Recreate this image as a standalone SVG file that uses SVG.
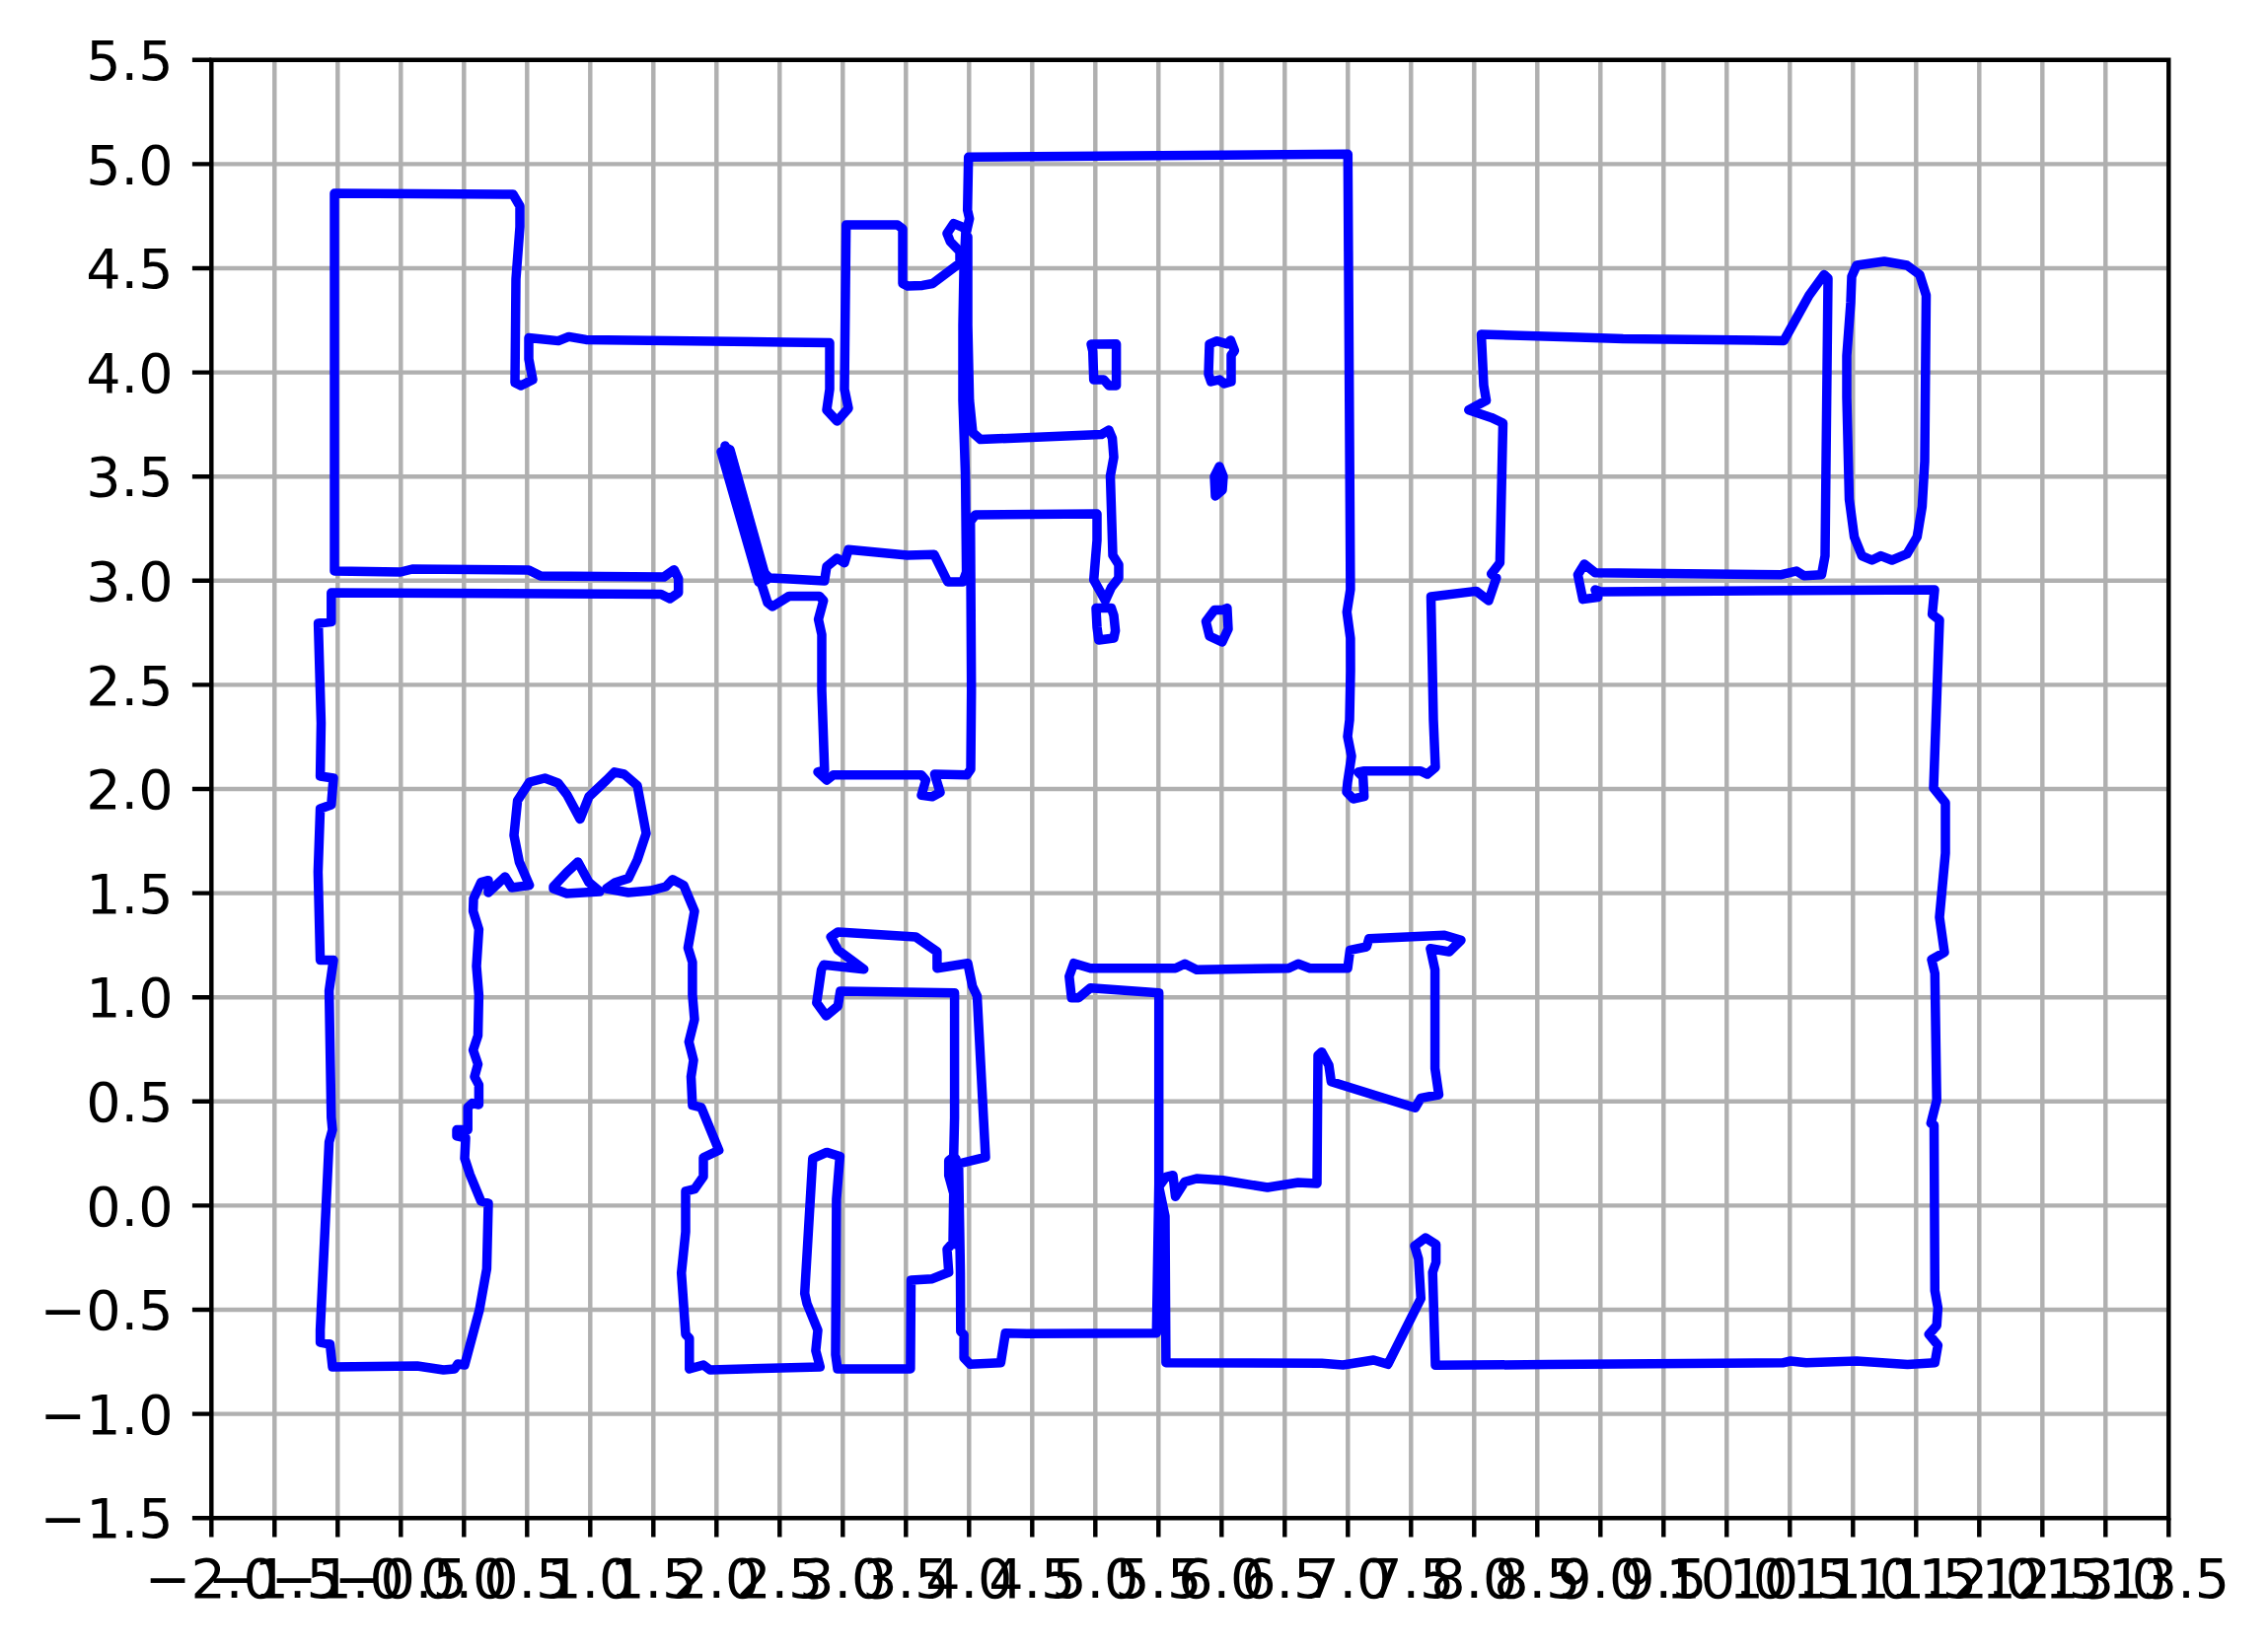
<svg xmlns="http://www.w3.org/2000/svg" width="2299" height="1672" viewBox="0 0 2299 1672">
<style>
.grid{fill:none;stroke:#b0b0b0;stroke-width:4.44}
.tick{fill:none;stroke:#000;stroke-width:4.44}
.spine{fill:none;stroke:#000;stroke-width:4.44;stroke-linecap:square}
.wall{fill:none;stroke:#0000ff;stroke-width:9.5;stroke-linejoin:round;stroke-linecap:round}
text{font-family:"DejaVu Sans",sans-serif;font-size:55.56px;fill:#000}
.xl{text-anchor:middle}
.yl{text-anchor:end}
</style>
<rect width="2299" height="1672" fill="#fff"/>
<g id="grid">
<path class="grid" d="M278.3,60.8V1539.2M342.3,60.8V1539.2M406.3,60.8V1539.2M470.3,60.8V1539.2M534.3,60.8V1539.2M598.3,60.8V1539.2M662.3,60.8V1539.2M726.3,60.8V1539.2M790.3,60.8V1539.2M854.3,60.8V1539.2M918.3,60.8V1539.2M982.3,60.8V1539.2M1046.3,60.8V1539.2M1110.3,60.8V1539.2M1174.3,60.8V1539.2M1238.3,60.8V1539.2M1302.3,60.8V1539.2M1366.3,60.8V1539.2M1430.3,60.8V1539.2M1494.3,60.8V1539.2M1558.3,60.8V1539.2M1622.3,60.8V1539.2M1686.3,60.8V1539.2M1750.3,60.8V1539.2M1814.3,60.8V1539.2M1878.3,60.8V1539.2M1942.3,60.8V1539.2M2006.3,60.8V1539.2M2070.3,60.8V1539.2M2134.3,60.8V1539.2"/>
<path class="grid" d="M214.3,166.4H2198.3M214.3,272H2198.3M214.3,377.6H2198.3M214.3,483.2H2198.3M214.3,588.8H2198.3M214.3,694.4H2198.3M214.3,800H2198.3M214.3,905.6H2198.3M214.3,1011.2H2198.3M214.3,1116.8H2198.3M214.3,1222.4H2198.3M214.3,1328H2198.3M214.3,1433.6H2198.3"/>
</g>
<g id="walls">
<path class="wall" d="M339,579L339,196 520,197 527,209 527,230 523,283 522,388 528,391 540,385 536,364 536,342.5 566,345.6 576.5,341.4 594,344.4 796,347 841,347.6 841,394.7 838,415.7 848.5,427 860,414 856,394.7 857.7,228 909.7,228 915,232 915,287.5 920,290 935,289.4 945.4,287.5 973,266.7 973,255 963.3,245 960,236.7 966.7,226.7 975,230 980,233.3 982.7,221.7 980.7,213 981.7,159.3 1366.3,156.3 1368.9,597.5 1365.3,620.5 1368.9,647.3 1369,680 1368,730 1366,746.7 1370,766.7 1366,793 1365,803 1371.7,810 1382.7,807.7 1381.7,788 1376.7,783 1383,781.7 1440,781.7 1446.7,785 1455,778 1453,730 1450.5,605 1496.4,599.4 1509,609 1516.8,586 1511.7,582 1520.4,570.7 1523.5,429 1511.7,423.4 1488.8,415.7 1506.6,406 1504,390.9 1501.5,339 1600,341.9 1645.2,343.5 1808.3,345.4 1833.8,299.5 1849,278.5 1853,282.3 1850,563.6 1846.5,582.7 1828.7,583.8 1821,579 1805.7,582.7 1617,580.8 1606,572 1599.4,582.7 1604.5,607.6 1619.7,605.6 1617,598 1622.3,600 1961,598 1958.6,623 1966,628.6 1960,799 1972,814 1972,865 1966,930 1971,965.7 1958,973 1961.3,987 1963.2,1115.7 1957.3,1139 1960.5,1140.7 1961.3,1308.6 1964.4,1326 1963.2,1344 1955.3,1353 1964.4,1364 1961.3,1381.8 1933.6,1383.6 1882,1380 1830.8,1381.8 1815,1380 1807,1381.8 1569.8,1383.6 1455,1384.3 1452.2,1290 1455.6,1280 1455.6,1261.7 1445,1255 1434,1263.3 1437.9,1276.7 1440.3,1316.7 1406.8,1383.3 1392.4,1379 1361.3,1384 1339.8,1382.3 1181.9,1381.7 1181,1233.3 1174.7,1203.3 1181.9,1193.3 1189,1191.7 1191.5,1213.3 1201,1198.3 1213,1195 1239.3,1196.7 1284.8,1204 1315.9,1199 1335,1200 1336,1070 1339.8,1066.7 1347,1080 1349.4,1096.7 1434.5,1123.3 1440.3,1113.3 1458.5,1110 1454.6,1083.3 1454.6,983.3 1449.9,961.7 1469,965 1481,953.3 1464.2,948.3 1387.7,951.7 1385.3,960 1368.5,963.3 1366.1,981.7 1327.8,981.7 1315.9,977.3 1306.3,981.7 1213,983.3 1201,977.3 1191.5,981.7 1105.4,981.7 1088.6,976.7 1083.8,990 1086.2,1011.7 1093.4,1011.7 1105.4,1001.7 1174.7,1006.7 1174.7,1200 1172.3,1351.7 1040.8,1352.3 1019.2,1351.7 1014.4,1381.7 983.3,1383.3 977.1,1376.7 977.1,1353.3 973.8,1350 973.5,1290 971.7,1180 999,1173.3 990.5,1010 985.7,1000 981,976.7 949.9,981.7 949.9,965 928.3,950 849.4,945 842.2,950 849.4,963.3 875.7,982.7 835,978.3 832.6,983.3 827.8,1016.7 837.4,1030 849.4,1020 851.8,1005 967.6,1006.7 967.6,1133.3 966.7,1173 961.7,1176.7 961.7,1191.7 966.7,1210 966,1260 960,1266.7 961.7,1290 945,1296.7 923.5,1298 922.9,1388 849,1388 847,1373.6 847.9,1216 851.4,1172.5 838,1168.4 823.8,1174.6 815.7,1311.4 818,1321.8 829,1348.7 826.9,1369.5 831.3,1386 719.7,1389 713,1384 698.8,1388 698.8,1357 695,1352.9 690.7,1290.7 695,1249 695,1207.8 704,1205.7 713,1193 713,1173.8 728.7,1166.3 710.8,1122.8 701.9,1120.7 700.5,1091.7 703,1075 698.3,1056.4 704,1033.6 701.9,1008.8 701.9,975.6 697.4,961 704,923.8 693,897.6 681.8,891.8 675,899 659.5,903 637,905 614.8,901 623.8,894.7 637,890.6 646,872 655,845 646,796.5 632.7,785 622.9,782.8 614.8,791 597,807.7 588,830.5 574.6,805.6 565.7,794 552.3,789 536.7,793 524.6,811.8 521,847 526.4,874 536.7,897.6 518.8,900 512,889 495,905 495,892.7 487.6,894.7 480,911.3 479.6,923.8 485.4,942.4 483,979.7 485.4,1008.8 484.5,1050 479.6,1064.7 484.5,1079 481,1091.7 485.4,1100 485.4,1120 478.7,1118.6 474.2,1122.8 474.2,1145.6 463,1145.6 463,1151.8 472,1153.9 471,1174.6 476.4,1191 487.6,1218 495,1220 493.4,1286.5 486,1328 471,1384 464,1383 460.8,1388 449.6,1389 422.9,1385 337,1386 334.5,1363 324.6,1361 324.6,1348.7 333.6,1158 337,1145.6 335.8,1133 333.6,1004.6 338,973.5 324.6,973.5 322.4,884 324.6,820 335.8,816 338,789 324.6,787 325.5,733 322.6,632 335.8,630.5 335.8,601 670,602.6 679,607 687.7,601 687.7,586.5 683.3,577.7 673,585 548,584 536,578 418,577 406,580 339,579Z"/>
<path class="wall" d="M981,240L981,329.6 982.7,406 986,438.7 993.9,445.6 1116.3,440.6 1124,436 1127.5,444.4 1129,463.6 1125.5,482.7 1128,563 1134,572.6 1134,586 1126.5,595.6 1120.4,609 1108.7,588 1112,547.8 1112,521 988.8,522 983.7,528.6 984.7,700 984,780 980,785.7 947.4,785 953,803.5 945,807.7 934,806.4 938.5,791 934,785.7 844.7,785.7 838,791 829,782.8 835.8,780.7 833,700 833,643.4 829.6,628 834.7,609 830.6,604.4 800,604.4 783,615 778,611 770,586 734,456 738,455 740,458 774,580 780,586 800,587 835.7,589 838,574.5 848.5,566 856,570.7 860,557.3 919.9,563 947,562.3 960.7,590 976,590 979.6,580 978.6,482.7 976,406 976,329.6 977,275 979,233"/>
<path class="wall" d="M731,458L769,590M740,456L777,588M735,452L773,585"/>
<path class="wall" d="M969,1175L966.6,1200 969,1261.7M1176,1240L1174,1345"/>
<path class="wall" d="M561,901L574.6,906 608,904 597,894.7 585.8,874 574.6,884.4 561,899Z"/>
<path class="wall" d="M1882,269L1910,265 1933,269 1945.9,278.5 1952.5,299.5 1951,468 1948.4,513.8 1943.3,544.4 1933,561.7 1917.8,568 1906.6,563.6 1897.5,568 1887.3,563.6 1879.6,544.4 1874.5,506 1872,402.8 1872,360.7 1876,307 1877,280.4Z"/>
<path class="wall" d="M1106,349L1131.6,348.8 1131.6,390.9 1124,390.9 1118.9,385 1108.7,385 1107.7,356Z"/>
<path class="wall" d="M1226,348.8L1233.7,345.7 1243.9,348.8 1247.4,345 1251.5,355.6 1248,360 1248,387 1241,389 1236,385 1227.6,387 1225,379.4Z"/>
<path class="wall" d="M1236,473L1240,483 1239,497 1232,503 1231,483Z"/>
<path class="wall" d="M1111,616.6L1126.5,616.6 1129,624 1130.6,639.6 1129,647 1113.8,649 1112,635.8Z"/>
<path class="wall" d="M1222.4,630L1231,618.6 1238.8,618.6 1243.9,616.6 1245,637.7 1238.8,651 1226,645Z"/>
</g>
<g id="axes">
<path class="spine" d="M214.3,60.8H2198.3V1539.2H214.3Z"/>
<path class="tick" d="M214.3,1539.2v19.4M278.3,1539.2v19.4M342.3,1539.2v19.4M406.3,1539.2v19.4M470.3,1539.2v19.4M534.3,1539.2v19.4M598.3,1539.2v19.4M662.3,1539.2v19.4M726.3,1539.2v19.4M790.3,1539.2v19.4M854.3,1539.2v19.4M918.3,1539.2v19.4M982.3,1539.2v19.4M1046.3,1539.2v19.4M1110.3,1539.2v19.4M1174.3,1539.2v19.4M1238.3,1539.2v19.4M1302.3,1539.2v19.4M1366.3,1539.2v19.4M1430.3,1539.2v19.4M1494.3,1539.2v19.4M1558.3,1539.2v19.4M1622.3,1539.2v19.4M1686.3,1539.2v19.4M1750.3,1539.2v19.4M1814.3,1539.2v19.4M1878.3,1539.2v19.4M1942.3,1539.2v19.4M2006.3,1539.2v19.4M2070.3,1539.2v19.4M2134.3,1539.2v19.4M2198.3,1539.2v19.4"/>
<path class="tick" d="M214.3,60.8h-19.4M214.3,166.4h-19.4M214.3,272h-19.4M214.3,377.6h-19.4M214.3,483.2h-19.4M214.3,588.8h-19.4M214.3,694.4h-19.4M214.3,800h-19.4M214.3,905.6h-19.4M214.3,1011.2h-19.4M214.3,1116.8h-19.4M214.3,1222.4h-19.4M214.3,1328h-19.4M214.3,1433.6h-19.4M214.3,1539.2h-19.4"/>
</g>
<g id="y-labels">
<text class="yl" x="175.5" y="81">5.5</text>
<text class="yl" x="175.5" y="186.6">5.0</text>
<text class="yl" x="175.5" y="292.2">4.5</text>
<text class="yl" x="175.5" y="397.8">4.0</text>
<text class="yl" x="175.5" y="503.4">3.5</text>
<text class="yl" x="175.5" y="609">3.0</text>
<text class="yl" x="175.5" y="714.6">2.5</text>
<text class="yl" x="175.5" y="820.2">2.0</text>
<text class="yl" x="175.5" y="925.8">1.5</text>
<text class="yl" x="175.5" y="1031.4">1.0</text>
<text class="yl" x="175.5" y="1137">0.5</text>
<text class="yl" x="175.5" y="1242.6">0.0</text>
<text class="yl" x="175.5" y="1348.2">−0.5</text>
<text class="yl" x="175.5" y="1453.8">−1.0</text>
<text class="yl" x="175.5" y="1559.4">−1.5</text>
</g>
<g id="x-labels">
<text class="xl" x="214.3" y="1620">−2.0</text>
<text class="xl" x="278.3" y="1620">−1.5</text>
<text class="xl" x="342.3" y="1620">−1.0</text>
<text class="xl" x="406.3" y="1620">−0.5</text>
<text class="xl" x="470.3" y="1620">0.0</text>
<text class="xl" x="534.3" y="1620">0.5</text>
<text class="xl" x="598.3" y="1620">1.0</text>
<text class="xl" x="662.3" y="1620">1.5</text>
<text class="xl" x="726.3" y="1620">2.0</text>
<text class="xl" x="790.3" y="1620">2.5</text>
<text class="xl" x="854.3" y="1620">3.0</text>
<text class="xl" x="918.3" y="1620">3.5</text>
<text class="xl" x="982.3" y="1620">4.0</text>
<text class="xl" x="1046.3" y="1620">4.5</text>
<text class="xl" x="1110.3" y="1620">5.0</text>
<text class="xl" x="1174.3" y="1620">5.5</text>
<text class="xl" x="1238.3" y="1620">6.0</text>
<text class="xl" x="1302.3" y="1620">6.5</text>
<text class="xl" x="1366.3" y="1620">7.0</text>
<text class="xl" x="1430.3" y="1620">7.5</text>
<text class="xl" x="1494.3" y="1620">8.0</text>
<text class="xl" x="1558.3" y="1620">8.5</text>
<text class="xl" x="1622.3" y="1620">9.0</text>
<text class="xl" x="1686.3" y="1620">9.5</text>
<text class="xl" x="1750.3" y="1620">10.0</text>
<text class="xl" x="1814.3" y="1620">10.5</text>
<text class="xl" x="1878.3" y="1620">11.0</text>
<text class="xl" x="1942.3" y="1620">11.5</text>
<text class="xl" x="2006.3" y="1620">12.0</text>
<text class="xl" x="2070.3" y="1620">12.5</text>
<text class="xl" x="2134.3" y="1620">13.0</text>
<text class="xl" x="2198.3" y="1620">13.5</text>
</g>
</svg>
